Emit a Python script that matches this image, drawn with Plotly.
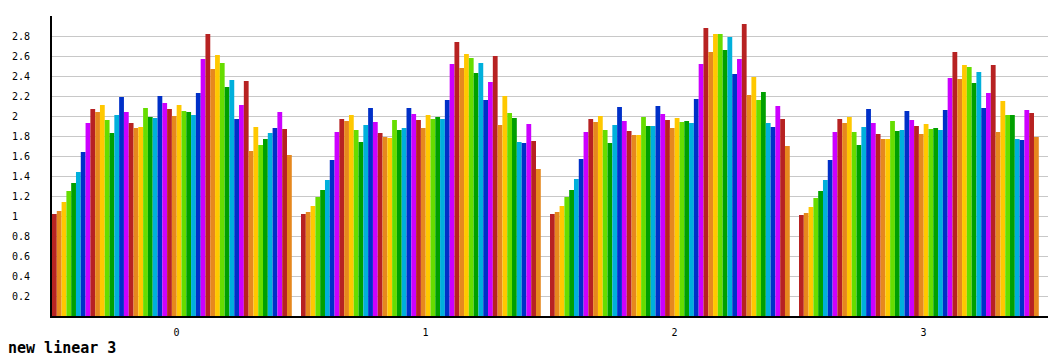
import plotly.graph_objects as go

categories = ["0", "1", "2", "3"]

group0 = [1.02, 1.05, 1.14, 1.25, 1.33, 1.44, 1.64, 1.93, 2.07, 2.04,
          2.11, 1.96, 1.83, 2.01, 2.19, 2.04, 1.93, 1.88, 1.89, 2.08,
          1.99, 1.98, 2.20, 2.13, 2.07, 2.00, 2.11, 2.05, 2.04, 2.01,
          2.23, 2.57, 2.82, 2.47, 2.61, 2.53, 2.29, 2.36, 1.97, 2.11,
          2.35, 1.65, 1.89, 1.71, 1.77, 1.83, 1.88, 2.04, 1.87, 1.61]
group1 = [1.02, 1.04, 1.10, 1.19, 1.26, 1.36, 1.56, 1.84, 1.97, 1.95,
          2.01, 1.86, 1.74, 1.91, 2.08, 1.94, 1.83, 1.79, 1.78, 1.96,
          1.86, 1.88, 2.08, 2.02, 1.96, 1.88, 2.01, 1.97, 1.99, 1.97,
          2.16, 2.52, 2.74, 2.48, 2.62, 2.58, 2.43, 2.53, 2.16, 2.34,
          2.60, 1.91, 2.20, 2.03, 1.98, 1.74, 1.73, 1.92, 1.75, 1.47]
group2 = [1.02, 1.04, 1.10, 1.19, 1.26, 1.37, 1.57, 1.84, 1.97, 1.94,
          2.00, 1.86, 1.73, 1.91, 2.09, 1.95, 1.85, 1.81, 1.81, 1.99,
          1.90, 1.90, 2.10, 2.02, 1.96, 1.88, 1.98, 1.94, 1.95, 1.93,
          2.17, 2.52, 2.88, 2.64, 2.82, 2.82, 2.66, 2.79, 2.42, 2.57,
          2.92, 2.21, 2.39, 2.16, 2.24, 1.93, 1.89, 2.10, 1.97, 1.70]
group3 = [1.01, 1.03, 1.09, 1.18, 1.25, 1.36, 1.56, 1.84, 1.97, 1.93,
          1.99, 1.84, 1.71, 1.89, 2.07, 1.93, 1.82, 1.77, 1.77, 1.95,
          1.85, 1.86, 2.05, 1.96, 1.90, 1.82, 1.92, 1.87, 1.88, 1.86,
          2.06, 2.38, 2.64, 2.37, 2.51, 2.49, 2.33, 2.44, 2.08, 2.23,
          2.51, 1.84, 2.15, 2.01, 2.01, 1.77, 1.76, 2.06, 2.03, 1.79]

ytick_vals = [0.2, 0.4, 0.6, 0.8, 1.0, 1.2, 1.4, 1.6, 1.8, 2.0, 2.2, 2.4, 2.6, 2.8]
ytick_labels = ["0.2", "0.4", "0.6", "0.8", "1", "1.2", "1.4", "1.6", "1.8",
                "2", "2.2", "2.4", "2.6", "2.8"]

colors = ["#b72222", "#e6881e", "#ffc800", "#66dd00", "#00a000",
          "#00b0dc", "#0030c8", "#cc00ff"]

groups = [group0, group1, group2, group3]
n_series = len(group0)
xpos = list(range(len(categories)))
fill = 0.963
w = fill / n_series

fig = go.Figure()
for i in range(n_series):
    fig.add_trace(go.Bar(
        x=xpos,
        y=[g[i] for g in groups],
        width=w,
        offset=-0.5 + i * w,
        marker=dict(color=colors[i % len(colors)], line=dict(width=0)),
        showlegend=False,
        hoverinfo="y",
    ))

mono = "DejaVu Sans Mono"
fig.update_layout(
    width=1064, height=364,
    margin=dict(l=48, r=16, t=16, b=48),
    paper_bgcolor="white", plot_bgcolor="white",
    barmode="overlay",
    font=dict(family=mono, size=10, color="#000"),
    title=dict(text="new linear 3", x=8 / 1064, xanchor="left",
               y=1 - 348 / 364, yanchor="middle", yref="container",
               font=dict(family=mono, size=15, color="#000", weight="bold")),
    xaxis=dict(range=[-0.5, 3.5], tickvals=xpos, ticktext=categories,
               showgrid=False, zeroline=False, showline=True,
               linecolor="#000", linewidth=2, ticks="", ticklabelstandoff=6,
               tickfont=dict(family=mono, size=10, color="#000"), fixedrange=True),
    yaxis=dict(range=[0, 3.0], tickvals=ytick_vals,
               ticktext=[t + "\u00a0" * (3 - len(t)) for t in ytick_labels],
               showgrid=True, gridcolor="#c8c8c8", gridwidth=1,
               zeroline=False, showline=True, linecolor="#000", linewidth=2,
               ticks="", ticklabelstandoff=18,
               tickfont=dict(family=mono, size=10, color="#000"), fixedrange=True),
)

fig.write_html("out.html")
